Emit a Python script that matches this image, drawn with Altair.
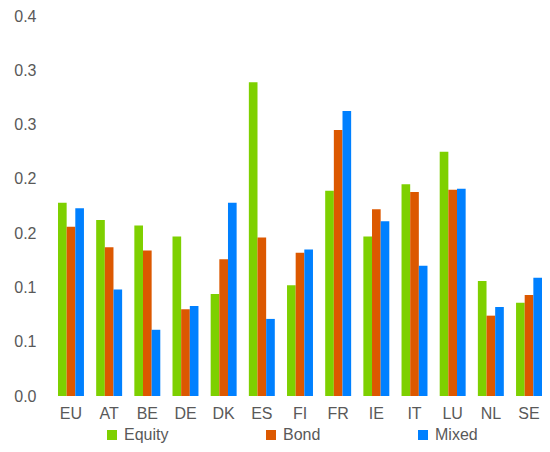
import altair as alt
import pandas as pd

countries = ["EU", "AT", "BE", "DE", "DK", "ES", "FI", "FR", "IE", "IT", "LU", "NL", "SE"]
series = ["Equity", "Bond", "Mixed"]
equity = [0.178, 0.162, 0.157, 0.147, 0.094, 0.289, 0.102, 0.189, 0.147, 0.195, 0.225, 0.106, 0.086]
bond = [0.156, 0.137, 0.134, 0.080, 0.126, 0.146, 0.132, 0.245, 0.172, 0.188, 0.190, 0.074, 0.093]
mixed = [0.173, 0.098, 0.061, 0.083, 0.178, 0.071, 0.135, 0.2625, 0.161, 0.120, 0.191, 0.082, 0.109]
colors = ["#7ED000", "#DC5800", "#0080FF"]
y_ticks = [0, 0.05, 0.1, 0.15, 0.2, 0.25, 0.3, 0.35]

rows = []
for name, vals in zip(series, [equity, bond, mixed]):
    for c, v in zip(countries, vals):
        rows.append({"country": c, "series": name, "value": v})
df = pd.DataFrame(rows)

chart = alt.Chart(df).mark_bar().encode(
    x=alt.X("country:N", sort=countries, title=None,
            scale=alt.Scale(paddingInner=0.32, paddingOuter=0),
            axis=alt.Axis(labelAngle=0, domain=False, ticks=False, tickSize=0,
                          labelPadding=9, labelFontSize=16, labelColor="#595959",
                          labelFont="Liberation Sans")),
    xOffset=alt.XOffset("series:N", sort=series, scale=alt.Scale(paddingInner=0, paddingOuter=0)),
    y=alt.Y("value:Q", title=None,
            scale=alt.Scale(domain=[0, 0.35], nice=False),
            axis=alt.Axis(values=y_ticks, domain=False, ticks=False, tickSize=0, grid=False,
                          labelPadding=22, labelFontSize=16, labelColor="#595959",
                          labelFont="Liberation Sans",
                          labelExpr="format(round(datum.value*10 + 0.000001)/10, '.1f')")),
    color=alt.Color("series:N", sort=series,
                    scale=alt.Scale(domain=series, range=colors),
                    legend=alt.Legend(title=None, orient="none", direction="horizontal",
                                      legendX=46, legendY=411, columns=3,
                                      columnPadding=94, symbolType="square", symbolSize=100,
                                      symbolStrokeWidth=0, labelOffset=4, padding=0,
                                      labelFontSize=16, labelColor="#595959",
                                      labelFont="Liberation Sans")),
).properties(
    width=484, height=380,
    autosize=alt.AutoSizeParams(type="none"),
    padding={"left": 50, "top": 8, "right": 0, "bottom": 48},
).configure_view(stroke=None)

chart.save("out.html", embed_options={"renderer": "svg", "actions": False})
